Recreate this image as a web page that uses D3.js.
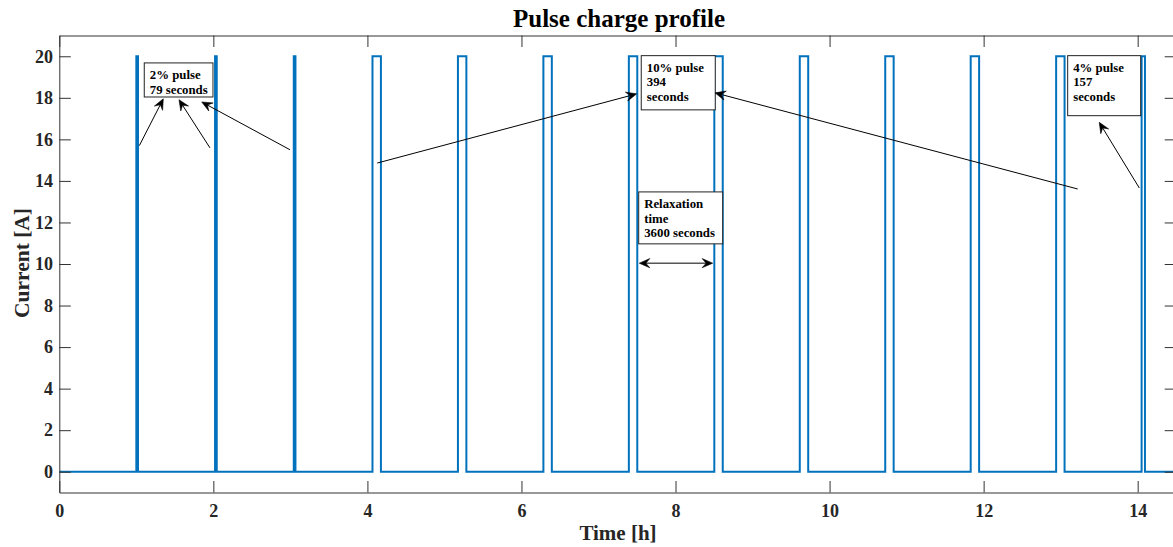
<!DOCTYPE html>
<html>
<head>
<meta charset="utf-8">
<script src="https://cdn.jsdelivr.net/npm/d3@7"></script>
<style>
  html, body { margin: 0; padding: 0; background: #fff; }
  svg { display: block; }
  text { font-family: "Liberation Serif", "Times New Roman", serif; font-weight: bold; fill: #262626; }
</style>
</head>
<body>
<svg id="chart" width="1173" height="547"></svg>
<script>
// Pulse schedule: each pulse starts after 3600 s of relaxation at 0 A
const pulseStartSec = [3600, 7279, 10958, 14637, 18631, 22625, 26619, 30613, 34607, 38601, 42595, 46589, 50583];
const pulseDurSec   = [79, 79, 79, 394, 394, 394, 394, 394, 394, 394, 394, 394, 157];
const pulseCurrentA = [20, 20, 20, 20, 20, 20, 20, 20, 20, 20, 20, 20, 20];
const restCurrentA = 0;
const relaxationSec = 3600;

const xTicks = [0, 2, 4, 6, 8, 10, 12, 14];
const yTicks = [0, 2, 4, 6, 8, 10, 12, 14, 16, 18, 20];

// Text callouts (data units: hours, amperes)
const callouts = [
  { lines: ["2% pulse", "79 seconds"], x0: 1.103, x1: 1.995, y0: 19.68, y1: 18.04 },
  { lines: ["10% pulse", "394", "seconds"], x0: 7.555, x1: 8.516, y0: 20.03, y1: 17.42 },
  { lines: ["4% pulse", "157", "seconds"], x0: 13.091, x1: 14.039, y0: 20.03, y1: 17.14 },
  { lines: ["Relaxation", "time", "3600 seconds"], x0: 7.522, x1: 8.612, y0: 13.47, y1: 10.97 }
];
// Arrows: tail -> head (data units)
const arrows = [
  { tx: 1.039, ty: 15.70, hx: 1.350, hy: 17.95 },
  { tx: 1.956, ty: 15.59, hx: 1.554, hy: 17.91 },
  { tx: 2.995, ty: 15.50, hx: 1.849, hy: 17.80 },
  { tx: 4.128, ty: 14.86, hx: 7.496, hy: 18.19 },
  { tx: 13.221, ty: 13.61, hx: 8.512, hy: 18.24 },
  { tx: 14.021, ty: 13.66, hx: 13.501, hy: 16.82 }
];
const doubleArrows = [
  { x0: 7.530, x1: 8.482, y: 10.04 }
];

// Build the step profile (time in hours, current in A)
const profile = [{ t: 0, i: restCurrentA }];
pulseStartSec.forEach((s, k) => {
  const e = s + pulseDurSec[k];
  profile.push({ t: s / 3600, i: restCurrentA });
  profile.push({ t: s / 3600, i: pulseCurrentA[k] });
  profile.push({ t: e / 3600, i: pulseCurrentA[k] });
  profile.push({ t: e / 3600, i: restCurrentA });
});
const lastEnd = pulseStartSec[pulseStartSec.length - 1] + pulseDurSec[pulseDurSec.length - 1];
profile.push({ t: (lastEnd + relaxationSec) / 3600, i: restCurrentA });

const svg = d3.select("#chart");
const plotLeft = 59.3, plotTop = 35.5, plotRight = 1176.2, plotBottom = 492.5;

const x = d3.scaleLinear().domain([0, 14.5]).range([plotLeft, plotRight]);
const y = d3.scaleLinear().domain([-1, 21]).range([plotBottom, plotTop]);

svg.append("defs").append("clipPath").attr("id", "plotClip")
  .append("rect").attr("x", plotLeft).attr("y", plotTop)
  .attr("width", plotRight - plotLeft).attr("height", plotBottom - plotTop);

// Data line
const line = d3.line().x(d => x(d.t)).y(d => y(d.i));
svg.append("path")
  .datum(profile)
  .attr("clip-path", "url(#plotClip)")
  .attr("fill", "none")
  .attr("stroke", "#0072BD")
  .attr("stroke-width", 2)
  .attr("stroke-linejoin", "miter")
  .attr("d", line);

// Axes (box with inward ticks)
const tickLen = 11.5;
const fontTick = "18px";
const gB = svg.append("g").attr("transform", `translate(0,${plotBottom})`)
  .call(d3.axisBottom(x).tickValues(xTicks).tickSizeInner(-tickLen).tickSizeOuter(0).tickPadding(11.5));
const gT = svg.append("g").attr("transform", `translate(0,${plotTop})`)
  .call(d3.axisTop(x).tickValues(xTicks).tickSizeInner(-tickLen).tickSizeOuter(0).tickFormat(""));
const gL = svg.append("g").attr("transform", `translate(${plotLeft},0)`)
  .call(d3.axisLeft(y).tickValues(yTicks).tickSizeInner(-tickLen).tickSizeOuter(0).tickPadding(6.3));
const gR = svg.append("g").attr("transform", `translate(${plotRight},0)`)
  .call(d3.axisRight(y).tickValues(yTicks).tickSizeInner(-tickLen).tickSizeOuter(0).tickFormat(""));

[gB, gT, gL, gR].forEach(g => {
  g.select(".domain").attr("stroke", "#333").attr("stroke-width", 1);
  g.selectAll(".tick line").attr("stroke", "#333").attr("stroke-width", 1);
  g.selectAll(".tick text")
    .style("font-family", '"Liberation Serif", "Times New Roman", serif')
    .style("font-weight", "bold")
    .style("font-size", fontTick)
    .attr("fill", "#262626");
});

// Title and axis labels
svg.append("text")
  .attr("x", 619).attr("y", 26.5)
  .attr("text-anchor", "middle")
  .style("font-size", "25px")
  .style("fill", "#000")
  .text("Pulse charge profile");

svg.append("text")
  .attr("x", 618).attr("y", 539.5)
  .attr("text-anchor", "middle")
  .style("font-size", "21px")
  .text("Time [h]");

svg.append("text")
  .attr("transform", "translate(28.5,263) rotate(-90)")
  .attr("text-anchor", "middle")
  .style("font-size", "21.5px")
  .text("Current [A]");

// Callout boxes
callouts.forEach(c => {
  const bx = x(c.x0), by = y(c.y0);
  const bw = x(c.x1) - x(c.x0), bh = y(c.y1) - y(c.y0);
  svg.append("rect")
    .attr("x", bx).attr("y", by).attr("width", bw).attr("height", bh)
    .attr("fill", "#fff").attr("stroke", "#222").attr("stroke-width", 1);
  const t = svg.append("text").style("font-size", "12.8px").style("fill", "#000");
  c.lines.forEach((ln, k) => {
    t.append("tspan").attr("x", bx + 5.5).attr("y", by + 16 + k * 14.6).text(ln);
  });
});

// Arrowhead in the "vback2" style: notched triangle
function arrowHead(g, px, py, angle) {
  const L = 10.5, W = 4.6, notch = 0.62 * L;
  const pts = [[0, 0], [-L, W], [-notch, 0], [-L, -W]];
  const ca = Math.cos(angle), sa = Math.sin(angle);
  const p = pts.map(([u, v]) => [px + u * ca - v * sa, py + u * sa + v * ca]);
  g.append("path").attr("d", "M" + p.map(q => q.join(",")).join("L") + "Z")
    .attr("fill", "#000").attr("stroke", "#000").attr("stroke-width", 0.6)
    .attr("stroke-linejoin", "miter");
}

const ga = svg.append("g");
arrows.forEach(a => {
  const x1 = x(a.tx), y1 = y(a.ty), x2 = x(a.hx), y2 = y(a.hy);
  const ang = Math.atan2(y2 - y1, x2 - x1);
  ga.append("line").attr("x1", x1).attr("y1", y1)
    .attr("x2", x2 - 6 * Math.cos(ang)).attr("y2", y2 - 6 * Math.sin(ang))
    .attr("stroke", "#000").attr("stroke-width", 1);
  arrowHead(ga, x2, y2, ang);
});
doubleArrows.forEach(a => {
  const x1 = x(a.x0), x2 = x(a.x1), yy = y(a.y);
  ga.append("line").attr("x1", x1 + 6).attr("y1", yy).attr("x2", x2 - 6).attr("y2", yy)
    .attr("stroke", "#000").attr("stroke-width", 1);
  arrowHead(ga, x2, yy, 0);
  arrowHead(ga, x1, yy, Math.PI);
});
</script>
</body>
</html>
